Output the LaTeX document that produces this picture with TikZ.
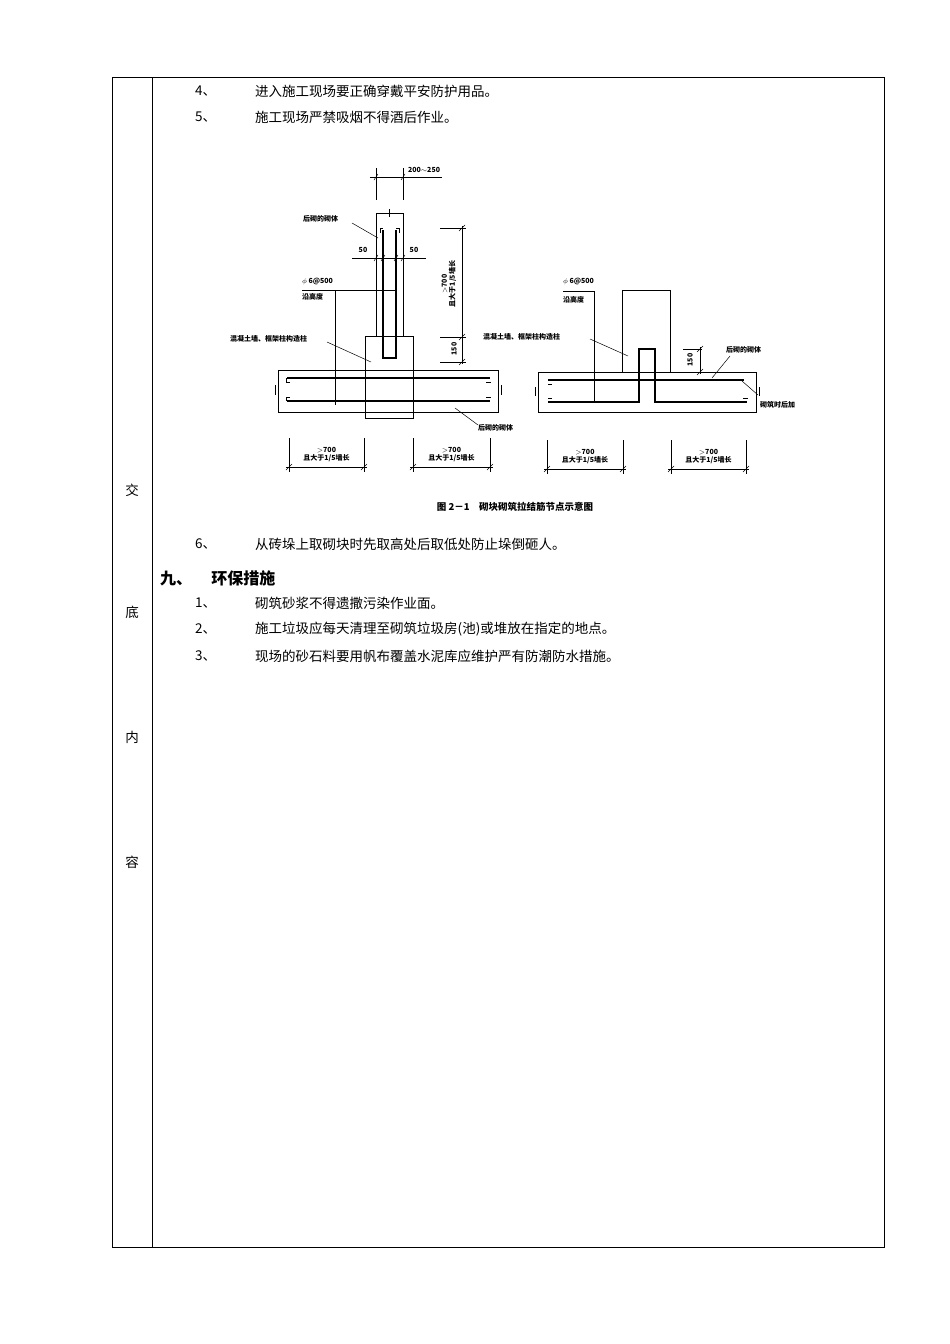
\documentclass[tikz,border=0pt]{standalone}
\usepackage{fontspec}
\setmainfont{Liberation Serif}
\newfontfamily\cjk{Noto Sans CJK SC}
\begin{document}
\begin{tikzpicture}[x=1pt,y=-1pt,
  txt/.style={anchor=west,inner sep=0pt,font=\cjk\fontsize{13.5}{15}\selectfont},
  sm/.style={inner sep=0pt,font=\cjk\bfseries\fontsize{7}{8}\selectfont},
  ln/.style={line width=0.8pt},
  bar/.style={line width=1.8pt},
  thin/.style={line width=0.5pt}]
\useasboundingbox (0,0) rectangle (950,1344);
\draw[line width=0.8pt] (112,77) rectangle (884,1247);
\draw[line width=0.8pt] (152,77) -- (152,1247);
\foreach \c/\y in {交/490,底/612,内/737,容/862}
  \node[txt,anchor=center] at (132,\y) {\c};
\node[txt] (l4n) at (195,91) {4、};
\node[txt] (l4) at (255,91) {进入施工现场要正确穿戴平安防护用品。};
\node[txt] (l5n) at (195,117) {5、};
\node[txt] (l5) at (255,117) {施工现场严禁吸烟不得酒后作业。};
\node[txt] (l6n) at (195,544) {6、};
\node[txt] (l6) at (255,544) {从砖垛上取砌块时先取高处后取低处防止垛倒砸人。};
\node[txt,font=\cjk\bfseries\fontsize{16}{18}\selectfont] (h9) at (160,578) {九、\hspace{1.2em}环保措施};
\node[txt] (e1n) at (195,603) {1、};
\node[txt] (e1) at (255,603) {砌筑砂浆不得遗撒污染作业面。};
\node[txt] (e2n) at (195,629) {2、};
\node[txt] (e2) at (255,629) {施工垃圾应每天清理至砌筑垃圾房(池)或堆放在指定的地点。};
\node[txt] (e3n) at (195,656) {3、};
\node[txt] (e3) at (255,656) {现场的砂石料要用帆布覆盖水泥库应维护严有防潮防水措施。};
% ---- left detail
\draw[thin] (376,168) -- (376,200) (403,168) -- (403,200) (370,177) -- (442,177);
\draw[thin] (374,180)--(378,174) (401,180)--(405,174);
\node[sm,anchor=west] (d1) at (408,170) {200$\sim$250};
\draw[ln] (376,336) -- (376,213) -- (403,213) -- (403,336);
\draw[thin] (389,209)--(389,217);
\draw[ln] (365,336) rectangle (413,418);
\draw[ln] (278,370) rectangle (365,412) (413,370) rectangle (498,412);
\draw[ln] (278,370)--(498,370) (278,412)--(498,412);
\draw[bar] (383,230) -- (383,358) -- (396,358) -- (396,230);
\draw[thin] (380,233)--(380,228)--(383,228) (399,233)--(399,228)--(396,228);
\draw[bar] (287,378) -- (490,378) (287,401) -- (490,401);
\draw[thin] (290,382)--(286,382)--(286,378) (290,397)--(286,397)--(286,401)
  (486,382)--(491,382) (486,397)--(491,397);
\draw[thin] (275,385)--(275,395) (501,385)--(501,395);
\draw[thin] (352,258) -- (426,258);
\node[sm] at (363,250) {50};
\node[sm] at (414,250) {50};
\draw[thin] (374,261)--(378,255) (381,261)--(385,255) (394,261)--(398,255) (401,261)--(405,255);
\node[sm,anchor=west] (p1) at (302,282) {$\phi$ 6@500};
\node[sm,anchor=west] (g1) at (302,297) {沿高度};
\draw[thin] (302,290) -- (395,290) (335,290) -- (335,405);
\node[sm,anchor=west] (h1) at (303,219) {后砌的砌体};
\draw[thin] (352,223) -- (378,238);
\node[sm,anchor=west] (c1) at (230,339) {混凝土墙、框架柱构造柱};
\draw[thin] (327,342) -- (371,362);
\draw[thin] (440,228)--(466,228) (440,337)--(466,337) (440,362)--(466,362) (462,226)--(462,364);
\foreach \y in {228,337,362} \draw[thin] (459,\y+3)--(465,\y-3);
\node[sm,rotate=90,align=center] at (449,284) {$>$700\\且大于1/5墙长};
\node[sm,rotate=90] at (454,349) {150};
\node[sm,anchor=west] (h2) at (478,428) {后砌的砌体};
\draw[thin] (455,408) -- (478,425);
\foreach \a/\b/\yy in {289/364/438,413/490/438,547/623/440,671/746/440}{
  \draw[thin] (\a,\yy)--(\a,\yy+34) (\b,\yy)--(\b,\yy+34) (\a-3,\yy+29)--(\b+3,\yy+29);
  \draw[thin] (\a-3,\yy+32)--(\a+3,\yy+26) (\b-3,\yy+32)--(\b+3,\yy+26);
  \node[sm,align=center] at ({(\a+\b)/2},\yy+17) {$>$700\\且大于1/5墙长};}
% ---- right detail
\draw[ln] (538,372) rectangle (756,412);
\draw[ln] (622,372) -- (622,290) -- (670,290) -- (670,372);
\draw[bar] (548,380) -- (744,380);
\draw[bar] (548,402) -- (639,402) -- (639,349) -- (655,349) -- (655,402) -- (747,402);
\draw[thin] (552,384)--(548,384) (552,398)--(548,398) (743,398)--(748,398);
\draw[thin] (742,381)--(758,395);
\draw[thin] (535,387)--(535,396) (759,387)--(759,396);
\node[sm,anchor=west] (p2) at (563,282) {$\phi$ 6@500};
\node[sm,anchor=west] (g2) at (563,300) {沿高度};
\draw[thin] (563,291) -- (594,291) -- (594,402);
\node[sm,anchor=west] (c2) at (483,337) {混凝土墙、框架柱构造柱};
\draw[thin] (590,339) -- (628,356);
\draw[thin] (683,349)--(702,349) (700,347)--(700,374);
\draw[thin] (697,352)--(703,346) (697,375)--(703,369);
\node[sm,rotate=90] at (690,360) {150};
\node[sm,anchor=west] (h3) at (726,350) {后砌的砌体};
\draw[thin] (730,356) -- (712,378);
\node[sm,anchor=west] (s3) at (760,405) {砌筑时后加};
% caption
\node[inner sep=0pt,font=\cjk\bfseries\fontsize{9.5}{11}\selectfont] (cap) at (515,507) {图 2－1\quad 砌块砌筑拉结筋节点示意图};
\end{tikzpicture}
\end{document}
